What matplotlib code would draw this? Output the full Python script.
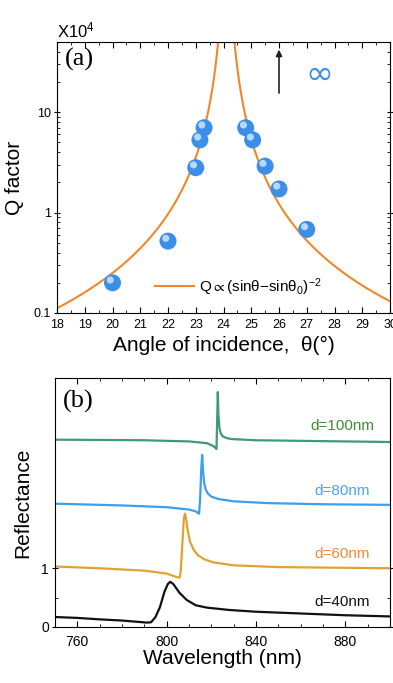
import matplotlib
matplotlib.use("Agg")
import matplotlib.pyplot as plt
import matplotlib.transforms as mtransforms
from matplotlib.ticker import FixedLocator, LogLocator, MultipleLocator, NullFormatter
import numpy as np

plt.rcParams["font.family"] = ["Liberation Sans", "DejaVu Sans"]
plt.rcParams["mathtext.fontset"] = "custom"
plt.rcParams["mathtext.rm"] = "Liberation Sans"
plt.rcParams["mathtext.it"] = "Liberation Sans:italic"
plt.rcParams["mathtext.fallback"] = "stixsans"

# (a) measured Q factor (units of 1e4) versus angle of incidence
angle = [20.0, 22.0, 23.0, 23.15, 23.3, 24.8, 25.05, 25.5, 26.0, 27.0]
q_factor = [0.2, 0.52, 2.8, 5.3, 7.0, 7.0, 5.3, 2.9, 1.72, 0.68]

# fit Q = A / (sin(theta) - sin(theta0))^2, parameters
theta0 = 24.1
fit_amp = 0.0011

# (b) reflectance spectra, offset vertically
wl_40 = [750, 760, 770, 780, 788, 791, 793, 795, 797, 799, 800.5, 801.6, 803, 805.8,
         809, 813, 818, 828, 840, 860, 880, 900]
r_40 = [0.17, 0.155, 0.13, 0.11, 0.085, 0.075, 0.08, 0.17, 0.34, 0.60, 0.73, 0.77, 0.73,
        0.58, 0.46, 0.37, 0.33, 0.29, 0.26, 0.23, 0.20, 0.18]

wl_60 = [750, 770, 790, 800, 803, 805, 805.8, 806.3, 807, 807.7, 808.2, 808.8, 809.5,
         810.5, 812, 814, 817, 821, 830, 850, 900]
r_60 = [1.03, 1.0, 0.96, 0.91, 0.87, 0.845, 0.84, 0.95, 1.4, 1.85, 1.93, 1.82, 1.62,
        1.45, 1.32, 1.22, 1.15, 1.1, 1.05, 1.02, 1.0]

wl_80 = [750, 780, 800, 810, 813, 814.5, 815.0, 815.5, 815.9, 816.3, 816.8, 817.5,
         818.5, 820, 823, 830, 845, 870, 900]
r_80 = [2.10, 2.07, 2.04, 2.0, 1.97, 1.93, 2.2, 2.7, 2.93, 2.65, 2.45, 2.34, 2.27,
        2.22, 2.18, 2.14, 2.11, 2.09, 2.08]

wl_100 = [750, 790, 810, 818, 821, 822.3, 822.6, 822.9, 823.2, 823.6, 824.2, 825,
          826.5, 829, 840, 900]
r_100 = [3.19, 3.18, 3.16, 3.13, 3.08, 3.03, 3.5, 4.0, 3.6, 3.4, 3.3, 3.25, 3.22,
         3.2, 3.18, 3.15]

spectra = [
    (wl_40, r_40, "#111111", "#111111", "d=40nm", 0.42),
    (wl_60, r_60, "#e2a232", "#f08a3c", "d=60nm", 1.25),
    (wl_80, r_80, "#3d9df0", "#4aa3f5", "d=80nm", 2.32),
    (wl_100, r_100, "#3f9a78", "#3f8f2f", "d=100nm", 3.42),
]

W, H = 393, 683
fig = plt.figure(figsize=(W / 100, H / 100), dpi=100)


def frac(left, top, right, bottom):
    return [left / W, 1 - bottom / H, (right - left) / W, (bottom - top) / H]


# ---------------- panel (a) ----------------
ax = fig.add_axes(frac(57, 42, 390, 313))
theta = np.linspace(18, 30, 3001)
diff = np.sin(np.radians(theta)) - np.sin(np.radians(theta0))
q_fit = fit_amp / diff ** 2
ax.plot(theta, q_fit, color="#f0882a", lw=1.5,
        label=r"Q${\propto}$(sinθ−sinθ$_0$)$^{-2}$")

ax.scatter(angle, q_factor, s=150, color="#3b8fe8", edgecolors="none", zorder=3)
hl = mtransforms.offset_copy(ax.transData, fig=fig, x=-1.6, y=2.0, units="points")
ax.scatter(angle, q_factor, s=26, color="#cfe6ff", alpha=0.85, edgecolors="none",
           zorder=4, transform=hl)

ax.set_yscale("log")
ax.set_xlim(18, 30)
ax.set_ylim(0.1, 50)
ax.xaxis.set_major_locator(MultipleLocator(1))
ax.xaxis.set_minor_locator(MultipleLocator(0.5))
ax.yaxis.set_major_locator(FixedLocator([0.1, 1, 10]))
ax.set_yticklabels(["0.1", "1", "10"])
ax.yaxis.set_minor_locator(LogLocator(base=10, subs=np.arange(2, 10)))
ax.yaxis.set_minor_formatter(NullFormatter())
ax.tick_params(which="both", top=True, right=True, labelsize=9)
ax.tick_params(axis="x", which="major", direction="in", length=4, pad=4)
ax.tick_params(axis="x", which="minor", direction="in", length=2.5)
ax.tick_params(axis="y", which="major", direction="inout", length=5, pad=2)
ax.tick_params(axis="y", which="minor", direction="in", length=2.5)

ax.set_xlabel("Angle of incidence,  θ(°)", fontsize=15)
ax.xaxis.set_label_coords(0.5, -0.085)
ax.set_ylabel("Q factor", fontsize=15)
ax.yaxis.set_label_coords(-0.1, 0.5)

ax.text(0.025, 0.935, "(a)", transform=ax.transAxes, fontsize=19,
        family="Liberation Serif", va="center", ha="left")
ax.annotate("", xy=(26.0, 42), xytext=(26.0, 15.5),
            arrowprops=dict(arrowstyle="-|>", color="#222222", lw=1.2,
                            mutation_scale=9, shrinkA=0, shrinkB=0))
ax.text(27.45, 24, "∞", color="#3b8fe8", fontsize=24, ha="center", va="center",
        family="DejaVu Sans")
ax.legend(loc="center left", bbox_to_anchor=(0.27, 0.097), frameon=False,
          fontsize=11, handlelength=2.6, handletextpad=0.3, borderpad=0)

fig.text(57 / W, 1 - 37 / H, r"X10$^4$", fontsize=12, ha="left", va="baseline")

# ---------------- panel (b) ----------------
bx = fig.add_axes(frac(55, 378, 390, 627))
for wl, r, c_line, c_txt, name, ylab in spectra:
    bx.plot(wl, r, color=c_line, lw=1.6)
    bx.text(878.5, ylab, name, color=c_txt, fontsize=11, ha="center", va="center")

bx.set_xlim(750, 900)
bx.set_ylim(0, 4.24)
bx.xaxis.set_major_locator(FixedLocator([760, 800, 840, 880]))
bx.xaxis.set_minor_locator(MultipleLocator(10))
bx.yaxis.set_major_locator(FixedLocator([0, 1]))
bx.yaxis.set_minor_locator(FixedLocator([0.5]))
bx.tick_params(which="both", top=True, right=True, direction="in", labelsize=10)
bx.tick_params(which="major", length=4)
bx.tick_params(which="minor", length=2.5)
bx.tick_params(axis="x", which="major", pad=6)
bx.tick_params(axis="y", which="major", direction="inout", length=5, pad=2)
bx.set_xlabel("Wavelength (nm)", fontsize=15)
bx.xaxis.set_label_coords(0.5, -0.09)
bx.set_ylabel("Reflectance", fontsize=15)
bx.yaxis.set_label_coords(-0.069, 0.5)
bx.text(0.025, 0.905, "(b)", transform=bx.transAxes, fontsize=19,
        family="Liberation Serif", va="center", ha="left")

fig.savefig("out.png", dpi=100)
